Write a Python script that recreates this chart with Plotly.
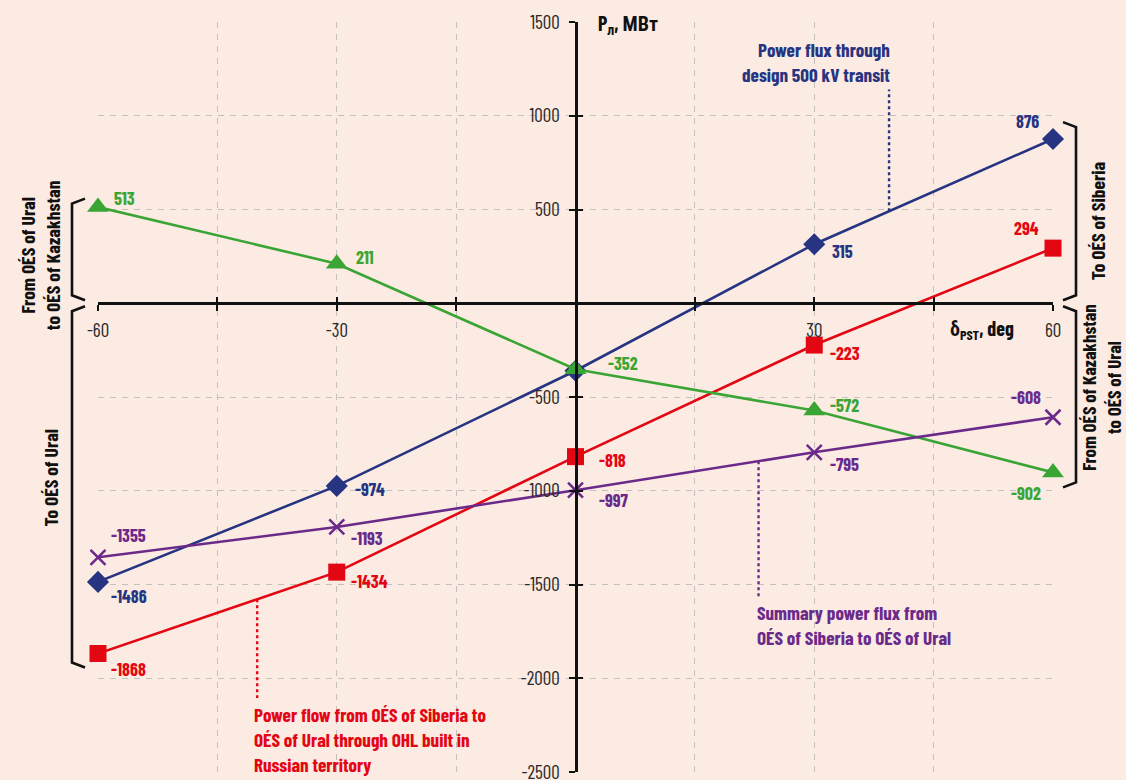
import numpy as np
import plotly.graph_objects as go

# ---- data -------------------------------------------------------------
delta_pst = [-60, -30, 0, 30, 60]

transit_500kv = [-1486, -974, -360, 315, 876]      # design 500 kV transit
ohl_russia = [-1868, -1434, -818, -223, 294]       # OHL built in Russian territory
kazakhstan = [513, 211, -352, -572, -902]          # OÉS of Ural <-> OÉS of Kazakhstan
summary_flux = [-1355, -1193, -997, -795, -608]    # Siberia -> Ural, total

x_ticks = [-60, -45, -30, -15, 0, 15, 30, 45, 60]
x_tick_text = ["-60", "", "-30", "", "", "", "30", "", "60"]
y_ticks = [-2500, -2000, -1500, -1000, -500, 0, 500, 1000, 1500]
y_tick_text = ["-2500", "-2000", "-1500", "-1000", "-500", "", "500", "1000", "1500"]

X_RANGE = [-60, 60]
Y_RANGE = [-2500, 1500]

# ---- style ------------------------------------------------------------
BG = "#FCEBE3"
NAVY = "#263481"
RED = "#E30613"
GREEN = "#3AA535"
PURPLE = "#6B2A8A"
FONT = "Barlow Condensed, Roboto Condensed, Sofia Sans Condensed, sans-serif"

fig = go.Figure()

series = [
    (transit_500kv, NAVY, dict(symbol="diamond", size=17, color=NAVY), "x", "y"),
    (ohl_russia, RED, dict(symbol="square", size=17, color=RED), "x", "y"),
    (kazakhstan, GREEN, dict(symbol="triangle-up", size=19, color=GREEN), "x", "y"),
    (summary_flux, PURPLE, dict(symbol="x-thin", size=15,
                                line=dict(color=PURPLE, width=2.5)), "x2", "y2"),
]
for vals, col, mk, xa, ya in series:
    fig.add_trace(go.Scatter(
        x=delta_pst, y=vals, mode="lines+markers", xaxis=xa, yaxis=ya,
        line=dict(color=col, width=2.6), marker=mk,
        cliponaxis=False, showlegend=False, hoverinfo="x+y",
    ))

# ---- value labels (xanchor, xshift, yshift) per point -----------------
label_pos = {
    "transit": [("left", 11, -14), ("left", 16, -3), None, ("left", 16, -7), ("right", -12, 18)],
    "ohl": [("left", 11, -15), ("left", 12, -9), ("left", 21, -3), ("left", 14, -8), ("right", -12, 20)],
    "kaz": [("left", 14, 9), ("left", 17, 7), ("left", 30, 6), ("left", 14, 6), ("right", -10, -21)],
    "sum": [("left", 11, 22), ("left", 12, -11), ("left", 21, -10), ("left", 14, -12), ("right", -10, 20)],
}
for key, (vals, col, _, _, _) in zip(["transit", "ohl", "kaz", "sum"], series):
    for xv, yv, pos in zip(delta_pst, vals, label_pos[key]):
        if pos is None:
            continue
        xa, xs, ys = pos
        fig.add_annotation(
            x=xv, y=yv, xref="x", yref="y", text=f"<b>{yv}</b>",
            showarrow=False, xanchor=xa, yanchor="middle",
            xshift=xs, yshift=ys,
            font=dict(family=FONT, size=18, color=col),
        )

# ---- captions with dotted leaders -------------------------------------
captions = [
    # (series values, leader x, leader end y, text, colour, xanchor, text x, text y, align)
    (transit_500kv, 39.4, 1140, "<b>Power flux through<br>design 500 kV transit</b>", NAVY,
     "right", 39.8, 1428, "right"),
    (ohl_russia, -40.0, -2105, "<b>Power flow from OÉS of Siberia to<br>OÉS of Ural through OHL built in<br>Russian territory</b>", RED,
     "left", -40.7, -2120, "left"),
    (summary_flux, 23.0, -1562, "<b>Summary power flux from<br>OÉS of Siberia to OÉS of Ural</b>", PURPLE,
     "left", 22.5, -1577, "left"),
]
for vals, lx, ly_end, txt, col, xa, tx, ty, al in captions:
    y_on_line = float(np.interp(lx, delta_pst, vals))
    fig.add_shape(type="line", xref="x", yref="y", x0=lx, x1=lx,
                  y0=y_on_line, y1=ly_end,
                  line=dict(color=col, width=2.4, dash="dot"), layer="above")
    fig.add_annotation(x=tx, y=ty, xref="x", yref="y", text=txt, showarrow=False,
                       xanchor=xa, yanchor="top", align=al,
                       font=dict(family=FONT, size=19.2, color=col))

# ---- axis titles ------------------------------------------------------
fig.add_annotation(x=0, y=Y_RANGE[1], xref="x", yref="y",
                   text="<b>P<sub>л</sub>, МВт</b>", showarrow=False,
                   xanchor="left", yanchor="middle", xshift=20, yshift=-2,
                   font=dict(family=FONT, size=20, color="#111"))
fig.add_annotation(x=55.3, y=0, xref="x", yref="y",
                   text="<b>δ<sub>PST</sub>, deg</b>", showarrow=False,
                   xanchor="right", yanchor="top", yshift=-11,
                   font=dict(family=FONT, size=20, color="#111"))

# ---- range brackets outside the plot ----------------------------------
def yp(v):
    return (v - Y_RANGE[0]) / (Y_RANGE[1] - Y_RANGE[0])

PX_W, PX_H = 955.0, 750.0
step = 5 / PX_H

def bracket(x_in, x_out, y_axis, y_end, pad):
    s = 1 if y_end > y_axis else -1
    ya = yp(y_axis) + s * 0.004
    yb = yp(y_end + s * pad)
    return (f"M {x_in},{yb} L {x_out},{yb - s * step} "
            f"L {x_out},{ya + s * step} L {x_in},{ya}")

left_in, left_out = (85 - 98) / PX_W, (72 - 98) / PX_W
right_in, right_out = (1063 - 98) / PX_W, (1076 - 98) / PX_W
brackets = [
    (left_in, left_out, max(kazakhstan), 45),
    (left_in, left_out, min(ohl_russia), 75),
    (right_in, right_out, max(transit_500kv), 90),
    (right_in, right_out, min(kazakhstan), 80),
]
for xi, xo, ye, pad in brackets:
    fig.add_shape(type="path", xref="paper", yref="paper",
                  path=bracket(xi, xo, 0, ye, pad),
                  line=dict(color="#111", width=2.6))

side_labels = [
    ("<b>From OÉS of Ural<br>to OÉS of Kazakhstan</b>", (39 - 98) / PX_W, max(kazakhstan) / 2, 19.5),
    ("<b>To OÉS of Ural</b>", (50 - 98) / PX_W, min(ohl_russia) / 2, 19.5),
    ("<b>To OÉS of Siberia</b>", (1097 - 98) / PX_W, max(transit_500kv) / 2, 19.5),
    ("<b>From OÉS of Kazakhstan<br>to OÉS of Ural</b>", (1101 - 98) / PX_W, min(kazakhstan) / 2, 19),
]
for txt, xpos, ymid, fs in side_labels:
    fig.add_annotation(x=xpos, y=ymid, xref="paper", yref="y", text=txt,
                       showarrow=False, textangle=-90, xanchor="center",
                       yanchor="middle", align="center",
                       font=dict(family=FONT, size=fs, color="#111"))

# ---- axes -------------------------------------------------------------
grid = dict(showgrid=True, gridcolor="#C4C0BE", gridwidth=1.2, griddash="6px,6px",
            zeroline=False, automargin=False)
tickfont = dict(family=FONT, size=19, color="#2a2a2a")
fig.update_layout(
    width=1126, height=780,
    margin=dict(l=98, r=73, t=22, b=8, autoexpand=False),
    paper_bgcolor=BG, plot_bgcolor=BG,
    showlegend=False,
    xaxis=dict(range=X_RANGE, anchor="free", position=yp(0), domain=[0, 1],
               showline=True, linecolor="#111", linewidth=2.6,
               ticks="outside", ticklen=6, tickwidth=2, tickcolor="#111",
               tickvals=x_ticks, ticktext=x_tick_text, ticklabeloverflow="allow",
               ticklabelstandoff=3, tickfont=tickfont, **grid),
    yaxis=dict(range=Y_RANGE, anchor="free", position=0.5, domain=[0, 1],
               showline=True, linecolor="#111", linewidth=3,
               ticks="outside", ticklen=6, tickwidth=2, tickcolor="#111",
               tickvals=y_ticks, ticktext=y_tick_text, ticklabeloverflow="allow",
               ticklabelstandoff=5, tickfont=tickfont, **grid),
    xaxis2=dict(range=X_RANGE, overlaying="x", anchor="free", position=yp(0),
                ticks="inside", ticklen=6, tickwidth=2, tickcolor="#111",
                tickvals=x_ticks, showticklabels=False, showgrid=False,
                zeroline=False, showline=False, automargin=False),
    yaxis2=dict(range=Y_RANGE, overlaying="y", anchor="free", position=0.5,
                ticks="inside", ticklen=6, tickwidth=2, tickcolor="#111",
                tickvals=y_ticks, showticklabels=False, showgrid=False,
                zeroline=False, showline=False, automargin=False),
)

fig.write_html("out.html")
